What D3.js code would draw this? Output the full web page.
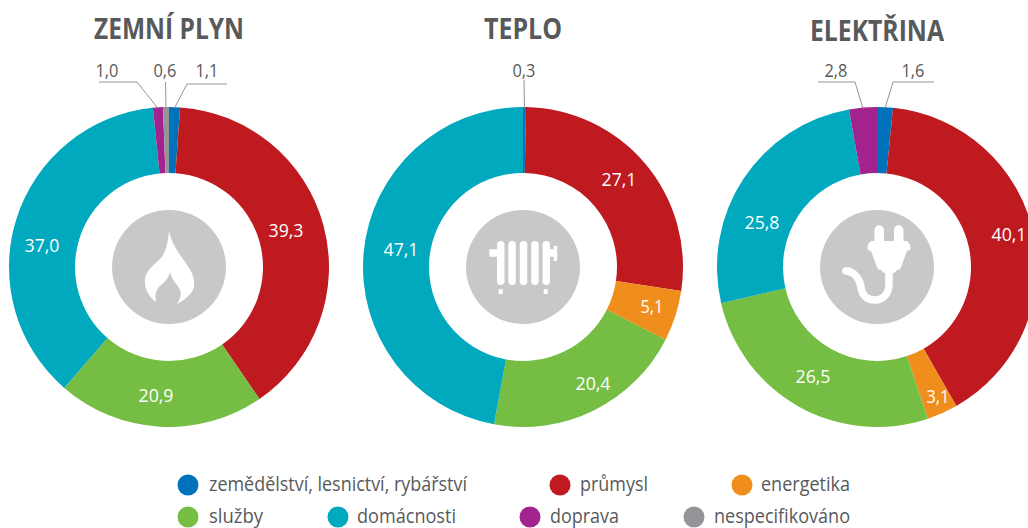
<!DOCTYPE html>
<html lang="cs"><head><meta charset="utf-8">
<script src="https://cdn.jsdelivr.net/npm/d3@7"></script>
<style>html,body{margin:0;padding:0;background:#fff}svg{display:block}text{font-family:"Open Sans","Noto Sans",sans-serif}</style>
</head><body><svg id="c" width="1028" height="528"></svg>
<script>
const categories = ["zemědělství, lesnictví, rybářství","průmysl","energetika","služby","domácnosti","doprava","nespecifikováno"];
const colors = ["#0072bc","#be1a20","#ef8e1c","#76bd43","#00a9bd","#a3238e","#939598"];
const titles = ["ZEMNÍ PLYN","TEPLO","ELEKTŘINA"];
const gasValues  = [1.1,39.3,0,20.9,37.0,1.0,0.6];
const heatValues = [0.3,27.1,5.1,20.4,47.1,0,0];
const elecValues = [1.6,40.1,3.1,26.5,25.8,2.8,0];

// layout only
const R=160, r0=94, rIcon=57;
const charts=[
 {values:gasValues,cx:169,cy:267,title:{w:150,y:39},
  inside:{1:[286,237],3:[156,402],4:[42,252]},
  outside:{0:{lx:207,ly:77,ex:227,ey:84,bx:187},5:{lx:107,ly:77,ex:99,ey:82,bx:137},6:{lx:165,ly:77,ex:165.5,ey:82,bx:165.5}},icon:"flame"},
 {values:heatValues,cx:523,cy:267,title:{w:78,y:39},
  inside:{1:[619,186],2:[652,313],3:[593,390],4:[401,256]},
  outside:{0:{lx:524,ly:77,ex:524,ey:80,bx:524}},icon:"radiator"},
 {values:elecValues,cx:877,cy:267,title:{w:134,y:41},
  inside:{1:[1009,241],2:[938,403],3:[813,383],4:[762,229]},
  outside:{0:{lx:913,ly:77,ex:934,ey:82,bx:893},5:{lx:836,ly:77,ex:818,ey:82,bx:855}},icon:"plug"}
];
const legendLayout=[[188,485,209,258],[560,485,580,68],[742,485,761,89],[188,517,209,54],[338,517,357,99],[530,517,550,69],[694,517,714,136]];

const fmt=v=>d3.format(".1f")(v).replace(".",",");
const svg=d3.select("#c");
const pie=d3.pie().sort(null).value(d=>d);
const arc=d3.arc().innerRadius(r0).outerRadius(R);
const labelWidth=s=>s.length>3?35:23;

const icons={
 flame(g){
  g.append("path").attr("fill","#fff").attr("d","M0,-36 C3,-22 10,-14 16,-5 C22,3 26,10 25,19 C24,27 15,33 8,37 C13,29 13,24 8,18 C4,13 2,9 1,5 C0,10 -3,14 -8,18 C-14,23 -14,29 -13,35 C-20,30 -25,22 -24,12 C-23,3 -14,-3 -8,-9 C-3,-15 -1,-25 0,-36Z");
 },
 radiator(g){
  g.append("g").attr("fill","#fff").selectAll("rect")
   .data([[-26,-26,7.5,44],[-14.7,-26,7.5,44],[-3.2,-26,7.5,44],[8.2,-26,7.5,44],[19.5,-26,7.5,44]])
   .join("rect").attr("x",d=>d[0]).attr("y",d=>d[1]).attr("width",d=>d[2]).attr("height",d=>d[3]).attr("rx",3.7);
  g.append("g").attr("fill","#fff").selectAll("rect")
   .data([[-33.7,-17.7,8,7.4],[26,-17.7,7,7.4],[30.7,-21,3.5,15],[-24.3,22.3,4,4.7],[20.7,22.3,4,4.7]])
   .join("rect").attr("x",d=>d[0]).attr("y",d=>d[1]).attr("width",d=>d[2]).attr("height",d=>d[3]);
 },
 plug(g){
  g.append("path").attr("fill","none").attr("stroke","#fff").attr("stroke-width",7.5).attr("stroke-linecap","round")
   .attr("d","M12,-2 V17 C12,28 5,33 -2,33 C-11,33 -15,27 -16,21 C-17,11 -24,4 -31,4");
  g.append("path").attr("fill","none").attr("stroke","#fff").attr("stroke-width",9.5).attr("stroke-linecap","round")
   .attr("d","M2.2,-37 V-24 M21.7,-37 V-24");
  g.append("path").attr("fill","#fff")
   .attr("d","M-6,-26 H30 Q35,-21 33,-17 L30,-16 L24,0 Q23,3 20,3 L17,6 H7 L4,3 Q1,3 0,0 L-6,-16 L-9,-17 Q-11,-22 -6,-26Z");
 }
};

charts.forEach((c,ci)=>{
 const g=svg.append("g").attr("transform",`translate(${c.cx},${c.cy})`);
 const arcs=pie(c.values);
 g.selectAll("path.s").data(arcs.filter(d=>d.value>0)).join("path").attr("class","s")
  .attr("d",arc).attr("fill",d=>colors[d.index]);
 g.append("circle").attr("r",rIcon).attr("fill","#c7c8ca");
 icons[c.icon](g);

 svg.append("text").attr("x",c.cx).attr("y",c.title.y).attr("text-anchor","middle")
  .attr("font-size",29).attr("font-weight",700).attr("fill","#58595b")
  .attr("textLength",c.title.w).attr("lengthAdjust","spacingAndGlyphs").text(titles[ci]);

 arcs.forEach(d=>{
  const p=c.inside[d.index];
  const s=fmt(d.value);
  if(p) svg.append("text").attr("x",p[0]).attr("y",p[1]).attr("text-anchor","middle")
    .attr("font-size",18.5).attr("fill","#fff")
    .attr("textLength",labelWidth(s)).attr("lengthAdjust","spacingAndGlyphs").text(s);
  const o=c.outside[d.index];
  if(o){
   const a=(d.startAngle+d.endAngle)/2;
   const tx=Math.sin(a)*(R-1), ty=-Math.cos(a)*(R-1);
   const line=d3.line();
   g.append("path").attr("fill","none").attr("stroke","#939598").attr("stroke-width",1)
    .attr("d",line([[o.ex-c.cx,o.ey-c.cy],[o.bx-c.cx,o.ey-c.cy],[tx,ty]]));
   svg.append("text").attr("x",o.lx).attr("y",o.ly).attr("text-anchor","middle")
    .attr("font-size",18.5).attr("fill","#58595b")
    .attr("textLength",labelWidth(s)).attr("lengthAdjust","spacingAndGlyphs").text(s);
  }
 });
});

const lg=svg.append("g").selectAll("g").data(categories).join("g");
lg.append("circle").attr("cx",(d,i)=>legendLayout[i][0]).attr("cy",(d,i)=>legendLayout[i][1]).attr("r",10.5).attr("fill",(d,i)=>colors[i]);
lg.append("text").attr("x",(d,i)=>legendLayout[i][2]).attr("y",(d,i)=>legendLayout[i][1]+6)
 .attr("font-size",19.5).attr("fill","#58595b")
 .attr("textLength",(d,i)=>legendLayout[i][3]).attr("lengthAdjust","spacingAndGlyphs").text(d=>d);
</script></body></html>
